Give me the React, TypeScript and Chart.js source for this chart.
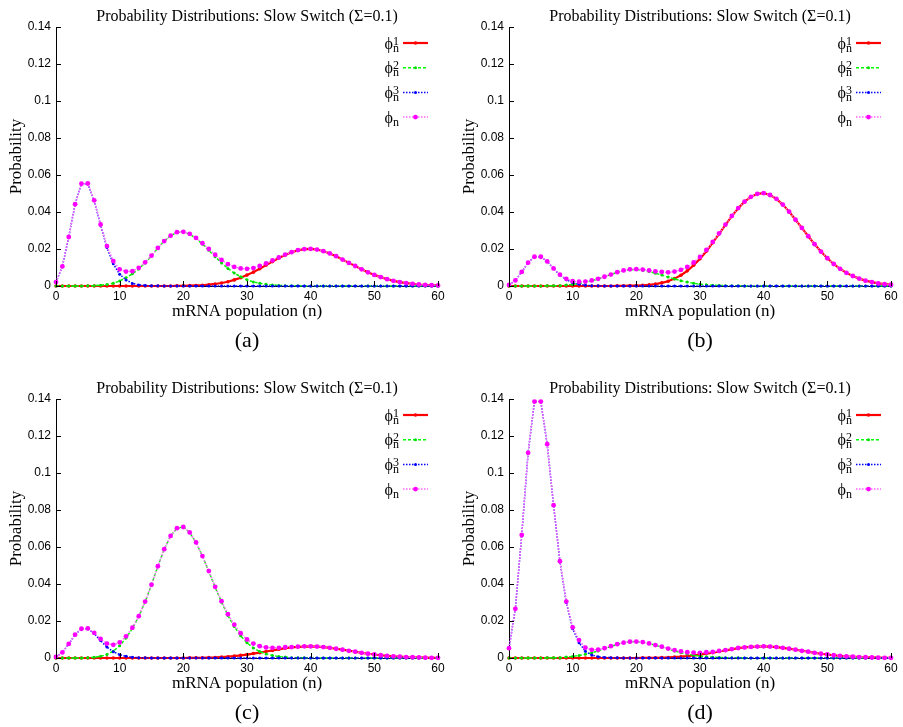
import React, { useEffect, useRef } from "react";
import { Chart, registerables } from "chart.js";

Chart.register(...registerables);

// ---------- data ----------
const N_VALUES = [
  0, 1, 2, 3, 4, 5, 6, 7, 8, 9, 10, 11, 12, 13, 14, 15, 16, 17, 18, 19, 20,
  21, 22, 23, 24, 25, 26, 27, 28, 29, 30, 31, 32, 33, 34, 35, 36, 37, 38, 39, 40,
  41, 42, 43, 44, 45, 46, 47, 48, 49, 50, 51, 52, 53, 54, 55, 56, 57, 58, 59, 60,
];
const X_TICKS = [0, 10, 20, 30, 40, 50, 60];
const Y_TICKS = [0, 0.02, 0.04, 0.06, 0.08, 0.1, 0.12, 0.14];
const TITLE = "Probability Distributions: Slow Switch (Σ=0.1)";
const X_LABEL = "mRNA population (n)";
const Y_LABEL = "Probability";
const SERIES_SUP = ["1", "2", "3", ""];
const CAPTIONS = ["(a)", "(b)", "(c)", "(d)"];

// panel (a)
const PHI1_A = [
  0, 0, 0, 0, 0, 0, 0, 0, 0, 0,
  0, 0, 0, 0, 0, 0, 0, 0, 0, 0.0001,
  0.0001, 0.0002, 0.0003, 0.0004, 0.0007, 0.0011, 0.0016, 0.0023, 0.0033, 0.0045,
  0.0059, 0.0075, 0.0093, 0.0113, 0.0132, 0.0151, 0.0168, 0.0182, 0.0193, 0.0199,
  0.0201, 0.0197, 0.0188, 0.0176, 0.0161, 0.0143, 0.0125, 0.0108, 0.009, 0.0074,
  0.006, 0.0048, 0.0037, 0.0028, 0.0021, 0.0016, 0.0012, 0.0008, 0.0006, 0.0004, 0.0003,
];
const PHI2_A = [
  0, 0, 0, 0, 0, 0.0001, 0.0002, 0.0004, 0.0008, 0.0015,
  0.0027, 0.0045, 0.0066, 0.0092, 0.0125, 0.0163, 0.0205, 0.0243, 0.0272, 0.029,
  0.0292, 0.028, 0.0257, 0.0227, 0.0193, 0.0158, 0.0125, 0.0095, 0.007, 0.005,
  0.0034, 0.0022, 0.0015, 0.0009, 0.0006, 0.0003, 0.0002, 0.0001, 0.0001, 0,
  0, 0, 0, 0, 0, 0, 0, 0, 0, 0,
  0, 0, 0, 0, 0, 0, 0, 0, 0, 0, 0,
];
const PHI3_A = [
  0.0021, 0.0106, 0.0265, 0.0442, 0.0553, 0.0553, 0.0461, 0.0329, 0.0208, 0.012,
  0.0063, 0.0033, 0.0014, 0.0006, 0.0003, 0.0001, 0.0001, 0, 0, 0,
  0, 0, 0, 0, 0, 0, 0, 0, 0, 0,
  0, 0, 0, 0, 0, 0, 0, 0, 0, 0,
  0, 0, 0, 0, 0, 0, 0, 0, 0, 0,
  0, 0, 0, 0, 0, 0, 0, 0, 0, 0, 0,
];
const PHI_A = [
  0.0021, 0.0106, 0.0265, 0.0442, 0.0553, 0.0554, 0.0463, 0.0333, 0.0216, 0.0135,
  0.009, 0.0078, 0.008, 0.0098, 0.0128, 0.0164, 0.0206, 0.0243, 0.0272, 0.0291,
  0.0293, 0.0282, 0.026, 0.0231, 0.02, 0.0169, 0.0141, 0.0118, 0.0103, 0.0095,
  0.0093, 0.0097, 0.0108, 0.0122, 0.0138, 0.0154, 0.017, 0.0183, 0.0194, 0.0199,
  0.0201, 0.0197, 0.0188, 0.0176, 0.0161, 0.0143, 0.0125, 0.0108, 0.009, 0.0074,
  0.006, 0.0048, 0.0037, 0.0028, 0.0021, 0.0016, 0.0012, 0.0008, 0.0006, 0.0004, 0.0003,
];

// panel (b)
const PHI1_B = [
  0, 0, 0, 0, 0, 0, 0, 0, 0, 0,
  0, 0, 0, 0, 0, 0, 0, 0.0001, 0.0001, 0.0002,
  0.0002, 0.0004, 0.0006, 0.001, 0.0017, 0.0026, 0.004, 0.0058, 0.0082, 0.0112,
  0.0147, 0.0188, 0.0234, 0.0282, 0.033, 0.0378, 0.042, 0.0456, 0.0482, 0.0498,
  0.0502, 0.0492, 0.0471, 0.044, 0.0402, 0.0358, 0.0314, 0.0269, 0.0226, 0.0186,
  0.015, 0.0119, 0.0093, 0.0071, 0.0054, 0.004, 0.0029, 0.0021, 0.0014, 0.001, 0.0007,
];
const PHI2_B = [
  0, 0, 0, 0, 0, 0, 0.0001, 0.0001, 0.0002, 0.0005,
  0.0008, 0.0014, 0.002, 0.0028, 0.0038, 0.005, 0.0062, 0.0074, 0.0083, 0.0088,
  0.0089, 0.0085, 0.0078, 0.0069, 0.0059, 0.0048, 0.0038, 0.0029, 0.0021, 0.0015,
  0.001, 0.0007, 0.0004, 0.0003, 0.0002, 0.0001, 0.0001, 0, 0, 0,
  0, 0, 0, 0, 0, 0, 0, 0, 0, 0,
  0, 0, 0, 0, 0, 0, 0, 0, 0, 0, 0,
];
const PHI3_B = [
  0.0006, 0.003, 0.0076, 0.0126, 0.0158, 0.0158, 0.0132, 0.0094, 0.0059, 0.0034,
  0.0018, 0.0009, 0.0004, 0.0002, 0.0001, 0, 0, 0, 0, 0,
  0, 0, 0, 0, 0, 0, 0, 0, 0, 0,
  0, 0, 0, 0, 0, 0, 0, 0, 0, 0,
  0, 0, 0, 0, 0, 0, 0, 0, 0, 0,
  0, 0, 0, 0, 0, 0, 0, 0, 0, 0, 0,
];
const PHI_B = [
  0.0006, 0.003, 0.0076, 0.0126, 0.0158, 0.0158, 0.0133, 0.0095, 0.0061, 0.0039,
  0.0026, 0.0023, 0.0024, 0.003, 0.0039, 0.005, 0.0062, 0.0075, 0.0084, 0.009,
  0.0091, 0.0089, 0.0084, 0.0079, 0.0076, 0.0074, 0.0078, 0.0087, 0.0103, 0.0127,
  0.0157, 0.0195, 0.0238, 0.0285, 0.0332, 0.0379, 0.0421, 0.0456, 0.0482, 0.0498,
  0.0502, 0.0492, 0.0471, 0.044, 0.0402, 0.0358, 0.0314, 0.0269, 0.0226, 0.0186,
  0.015, 0.0119, 0.0093, 0.0071, 0.0054, 0.004, 0.0029, 0.0021, 0.0014, 0.001, 0.0007,
];

// panel (c)
const PHI1_C = [
  0, 0, 0, 0, 0, 0, 0, 0, 0, 0,
  0, 0, 0, 0, 0, 0, 0, 0, 0, 0,
  0, 0.0001, 0.0001, 0.0001, 0.0002, 0.0003, 0.0005, 0.0007, 0.001, 0.0014,
  0.0018, 0.0024, 0.0029, 0.0035, 0.0041, 0.0047, 0.0053, 0.0057, 0.006, 0.0062,
  0.0063, 0.0062, 0.0059, 0.0055, 0.005, 0.0045, 0.0039, 0.0034, 0.0028, 0.0023,
  0.0019, 0.0015, 0.0012, 0.0009, 0.0007, 0.0005, 0.0004, 0.0003, 0.0002, 0.0001, 0.0001,
];
const PHI2_C = [
  0, 0, 0, 0, 0, 0.0002, 0.0004, 0.0009, 0.0019, 0.0037,
  0.0066, 0.0108, 0.016, 0.0224, 0.0304, 0.0396, 0.0496, 0.0588, 0.066, 0.0702,
  0.0708, 0.0678, 0.0624, 0.055, 0.0468, 0.0382, 0.0302, 0.023, 0.017, 0.012,
  0.0082, 0.0054, 0.0035, 0.0022, 0.0014, 0.0008, 0.0005, 0.0002, 0.0002, 0.0001,
  0, 0, 0, 0, 0, 0, 0, 0, 0, 0,
  0, 0, 0, 0, 0, 0, 0, 0, 0, 0, 0,
];
const PHI3_C = [
  0.0006, 0.003, 0.0076, 0.0126, 0.0158, 0.0158, 0.0132, 0.0094, 0.0059, 0.0034,
  0.0018, 0.0009, 0.0004, 0.0002, 0.0001, 0, 0, 0, 0, 0,
  0, 0, 0, 0, 0, 0, 0, 0, 0, 0,
  0, 0, 0, 0, 0, 0, 0, 0, 0, 0,
  0, 0, 0, 0, 0, 0, 0, 0, 0, 0,
  0, 0, 0, 0, 0, 0, 0, 0, 0, 0, 0,
];
const PHI_C = [
  0.0006, 0.003, 0.0076, 0.0126, 0.0158, 0.016, 0.0136, 0.0103, 0.0078, 0.0071,
  0.0084, 0.0117, 0.0164, 0.0226, 0.0305, 0.0396, 0.0496, 0.0588, 0.066, 0.0702,
  0.0708, 0.0679, 0.0625, 0.0551, 0.047, 0.0385, 0.0307, 0.0237, 0.018, 0.0134,
  0.01, 0.0078, 0.0064, 0.0057, 0.0055, 0.0055, 0.0058, 0.0059, 0.0062, 0.0063,
  0.0063, 0.0062, 0.0059, 0.0055, 0.005, 0.0045, 0.0039, 0.0034, 0.0028, 0.0023,
  0.0019, 0.0015, 0.0012, 0.0009, 0.0007, 0.0005, 0.0004, 0.0003, 0.0002, 0.0001, 0.0001,
];

// panel (d)
const PHI1_D = [
  0, 0, 0, 0, 0, 0, 0, 0, 0, 0,
  0, 0, 0, 0, 0, 0, 0, 0, 0, 0,
  0, 0.0001, 0.0001, 0.0001, 0.0002, 0.0003, 0.0005, 0.0007, 0.001, 0.0014,
  0.0018, 0.0024, 0.0029, 0.0035, 0.0041, 0.0047, 0.0053, 0.0057, 0.006, 0.0062,
  0.0063, 0.0062, 0.0059, 0.0055, 0.005, 0.0045, 0.0039, 0.0034, 0.0028, 0.0023,
  0.0019, 0.0015, 0.0012, 0.0009, 0.0007, 0.0005, 0.0004, 0.0003, 0.0002, 0.0001, 0.0001,
];
const PHI2_D = [
  0, 0, 0, 0, 0, 0, 0.0001, 0.0001, 0.0002, 0.0005,
  0.0008, 0.0014, 0.002, 0.0028, 0.0038, 0.005, 0.0062, 0.0074, 0.0083, 0.0088,
  0.0089, 0.0085, 0.0078, 0.0069, 0.0059, 0.0048, 0.0038, 0.0029, 0.0021, 0.0015,
  0.001, 0.0007, 0.0004, 0.0003, 0.0002, 0.0001, 0.0001, 0, 0, 0,
  0, 0, 0, 0, 0, 0, 0, 0, 0, 0,
  0, 0, 0, 0, 0, 0, 0, 0, 0, 0, 0,
];
const PHI3_D = [
  0.0053, 0.0266, 0.0665, 0.1109, 0.1386, 0.1386, 0.1155, 0.0825, 0.0521, 0.03,
  0.0158, 0.0083, 0.0036, 0.0016, 0.0007, 0.0003, 0.0002, 0.0001, 0, 0,
  0, 0, 0, 0, 0, 0, 0, 0, 0, 0,
  0, 0, 0, 0, 0, 0, 0, 0, 0, 0,
  0, 0, 0, 0, 0, 0, 0, 0, 0, 0,
  0, 0, 0, 0, 0, 0, 0, 0, 0, 0, 0,
];
const PHI_D = [
  0.0053, 0.0266, 0.0665, 0.1109, 0.1386, 0.1386, 0.1156, 0.0826, 0.0523, 0.0305,
  0.0166, 0.0097, 0.0056, 0.0044, 0.0045, 0.0053, 0.0064, 0.0075, 0.0083, 0.0088,
  0.0089, 0.0086, 0.0079, 0.007, 0.0061, 0.0051, 0.0043, 0.0036, 0.0031, 0.0029,
  0.0028, 0.0031, 0.0033, 0.0038, 0.0043, 0.0048, 0.0054, 0.0057, 0.006, 0.0062,
  0.0063, 0.0062, 0.0059, 0.0055, 0.005, 0.0045, 0.0039, 0.0034, 0.0028, 0.0023,
  0.0019, 0.0015, 0.0012, 0.0009, 0.0007, 0.0005, 0.0004, 0.0003, 0.0002, 0.0001, 0.0001,
];

const PANEL_SERIES = [
  [PHI1_A, PHI2_A, PHI3_A, PHI_A],
  [PHI1_B, PHI2_B, PHI3_B, PHI_B],
  [PHI1_C, PHI2_C, PHI3_C, PHI_C],
  [PHI1_D, PHI2_D, PHI3_D, PHI_D],
];

// ---------- styles ----------
const SERIF = '"Liberation Serif", "DejaVu Serif", "Times New Roman", serif';
const SANS = '"Liberation Sans", Arial, Helvetica, sans-serif';

const STYLES = [
  { line: "#ff0000", point: "#ff0000", width: 2.2, dash: [] as number[], r: 1.8, order: 3 },
  { line: "#00ff00", point: "#00dd00", width: 1.5, dash: [3, 2], r: 1.5, order: 2 },
  { line: "#0000ff", point: "#0000ff", width: 1.5, dash: [1.5, 1.5], r: 1.5, order: 1 },
  { line: "#ff66ff", point: "#ff00ff", width: 1.5, dash: [1.5, 1.5], r: 2.4, order: 0 },
];

const CW = 451;
const CH = 363;
const PANEL_POS = [
  { left: 0, top: 0 },
  { left: 453, top: 0 },
  { left: 0, top: 372 },
  { left: 453, top: 372 },
];

function makeDecor(caption: string) {
  return {
    id: "decor",
    afterDraw(chart: any) {
      const { ctx, chartArea: ca, scales } = chart;
      ctx.save();
      // inward tick marks
      ctx.strokeStyle = "#000";
      ctx.lineWidth = 1;
      ctx.setLineDash([]);
      for (const v of Y_TICKS) {
        const y = Math.round(scales.y.getPixelForValue(v)) + 0.5;
        ctx.beginPath();
        ctx.moveTo(ca.left, y);
        ctx.lineTo(ca.left + 5, y);
        ctx.stroke();
      }
      for (const v of X_TICKS) {
        const x = Math.round(scales.x.getPixelForValue(v)) + 0.5;
        ctx.beginPath();
        ctx.moveTo(x, ca.bottom);
        ctx.lineTo(x, ca.bottom - 5);
        ctx.stroke();
      }
      const cx = (ca.left + ca.right) / 2;
      ctx.fillStyle = "#000";
      // title
      ctx.font = `16px ${SERIF}`;
      ctx.textAlign = "center";
      ctx.textBaseline = "alphabetic";
      ctx.fillText(TITLE, cx, ca.top - 6);
      // x label
      ctx.font = `17px ${SERIF}`;
      ctx.fillText(X_LABEL, cx, ca.bottom + 30);
      // caption
      ctx.font = `22px ${SERIF}`;
      ctx.fillText(caption, cx, ca.bottom + 61);
      // y label
      ctx.save();
      ctx.translate(17, (ca.top + ca.bottom) / 2);
      ctx.rotate(-Math.PI / 2);
      ctx.font = `17px ${SERIF}`;
      ctx.textAlign = "center";
      ctx.textBaseline = "middle";
      ctx.fillText(Y_LABEL, 0, 0);
      ctx.restore();
      // legend
      for (let i = 0; i < 4; i++) {
        const st = STYLES[i];
        const y = ca.top + 16 + i * 24.7;
        const x0 = ca.right - 35;
        const x1 = ca.right - 10;
        ctx.strokeStyle = st.line;
        ctx.lineWidth = st.width;
        ctx.setLineDash(st.dash);
        ctx.beginPath();
        ctx.moveTo(x0, y);
        ctx.lineTo(x1, y);
        ctx.stroke();
        ctx.setLineDash([]);
        ctx.fillStyle = st.point;
        ctx.beginPath();
        ctx.arc((x0 + x1) / 2, y, st.r, 0, Math.PI * 2);
        ctx.fill();
        ctx.fillStyle = "#000";
        ctx.font = `12px ${SERIF}`;
        const sup = SERIES_SUP[i];
        const w = Math.max(ctx.measureText(sup).width, ctx.measureText("n").width);
        const tx = x0 - 4 - w;
        ctx.textAlign = "left";
        ctx.textBaseline = "alphabetic";
        if (sup) ctx.fillText(sup, tx, y + 1.5);
        ctx.fillText("n", tx, y + 8.5);
        ctx.font = `16px ${SERIF}`;
        ctx.textAlign = "right";
        ctx.fillText("ϕ", tx, y + 5.5);
      }
      ctx.restore();
    },
  };
}

function Panel({ index }: { index: number }) {
  const ref = useRef<HTMLCanvasElement | null>(null);
  useEffect(() => {
    const canvas = ref.current;
    if (!canvas) return;
    const series = PANEL_SERIES[index];
    const chart = new Chart(canvas, {
      type: "line",
      data: {
        datasets: series.map((arr, i) => ({
          label: "phi" + SERIES_SUP[i],
          data: N_VALUES.map((n, k) => ({ x: n, y: arr[k] })),
          borderColor: STYLES[i].line,
          borderWidth: STYLES[i].width,
          borderDash: STYLES[i].dash,
          pointRadius: STYLES[i].r,
          pointBackgroundColor: STYLES[i].point,
          pointBorderWidth: 0,
          pointHoverRadius: STYLES[i].r,
          tension: 0,
          fill: false,
          clip: false as any,
          order: STYLES[i].order,
        })),
      },
      options: {
        animation: false,
        responsive: false,
        devicePixelRatio: 1,
        events: [],
        layout: { padding: { left: 0, top: 27, right: 13, bottom: 0 } },
        plugins: {
          legend: { display: false },
          title: { display: false },
          tooltip: { enabled: false },
        },
        scales: {
          x: {
            type: "linear",
            min: 0,
            max: 60,
            afterBuildTicks: (s: any) => {
              s.ticks = X_TICKS.map((v) => ({ value: v }));
            },
            afterFit: (s: any) => {
              s.height = CH - 286;
            },
            ticks: {
              padding: 3,
              color: "#000",
              font: { family: SANS, size: 12 },
              maxRotation: 0,
              autoSkip: false,
              callback: (v: any) => String(v),
            },
            grid: { display: false, drawTicks: false },
            border: { display: true, color: "#000", width: 1 },
          },
          y: {
            type: "linear",
            min: 0,
            max: 0.14,
            afterBuildTicks: (s: any) => {
              s.ticks = Y_TICKS.map((v) => ({ value: v }));
            },
            afterFit: (s: any) => {
              s.width = 56;
            },
            ticks: {
              padding: 5,
              color: "#000",
              font: { family: SANS, size: 12 },
              autoSkip: false,
              callback: (v: any) => String(parseFloat(Number(v).toFixed(2))),
            },
            grid: { display: false, drawTicks: false },
            border: { display: true, color: "#000", width: 1 },
          },
        },
      },
      plugins: [makeDecor(CAPTIONS[index])],
    } as any);
    return () => chart.destroy();
  }, [index]);
  const pos = PANEL_POS[index];
  return (
    <canvas
      ref={ref}
      width={CW}
      height={CH}
      style={{ position: "absolute", left: pos.left, top: pos.top, width: CW, height: CH }}
    />
  );
}

export default function App() {
  return (
    <div
      style={{
        position: "absolute",
        left: 0,
        top: 0,
        width: 903,
        height: 727,
        background: "#fff",
        overflow: "hidden",
      }}
    >
      {[0, 1, 2, 3].map((i) => (
        <Panel key={i} index={i} />
      ))}
    </div>
  );
}
